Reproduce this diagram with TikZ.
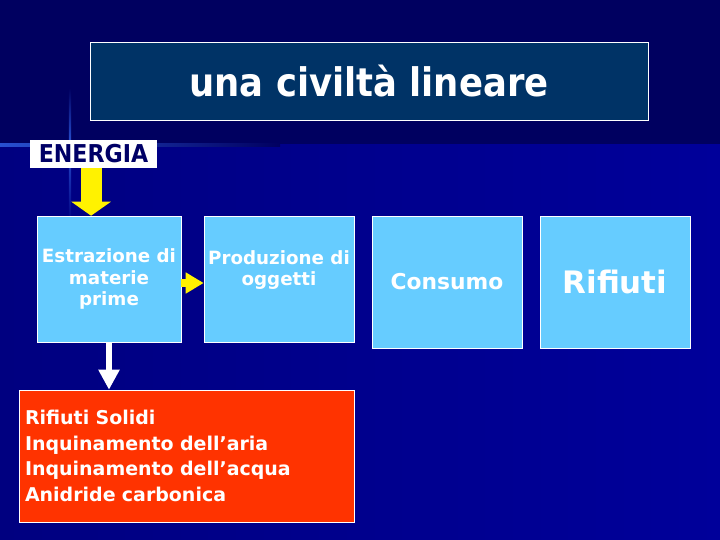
\documentclass[tikz,border=0pt]{standalone}
\usepackage{fontspec}
\setmainfont{DejaVu Sans}
\newfontfamily\condfont{DejaVu Sans Condensed}
\usepackage{tikz}
\usetikzlibrary{shapes,positioning,arrows.meta}
\definecolor{bgtop}{HTML}{000060}
\definecolor{bgleft}{HTML}{000080}
\definecolor{bgright}{HTML}{00009A}
\definecolor{glow}{HTML}{2850D0}
\definecolor{titlefill}{HTML}{003366}
\definecolor{sky}{HTML}{66CCFF}
\definecolor{wastered}{HTML}{FF3300}
\definecolor{navytext}{HTML}{000066}
\tikzstyle{titlebox} = [draw=white, fill=titlefill, text=white, minimum width=13.95cm, minimum height=1.95cm, font=\condfont\bfseries\fontsize{28}{32}\selectfont]
\tikzstyle{energybox} = [fill=white, text=navytext, minimum width=3.175cm, minimum height=0.7cm, inner sep=0pt, font=\condfont\bfseries\fontsize{17.5}{20}\selectfont]
\tikzstyle{stagebox} = [draw=white, fill=sky, text=white, align=center, minimum width=3.75cm, minimum height=3.15cm, inner sep=0pt, font=\bfseries\fontsize{13}{15.6}\selectfont]
\tikzstyle{wastebox} = [draw=white, fill=wastered, text=white, align=left, text width=8.075cm, minimum height=3.3cm, inner xsep=0.15cm, font=\bfseries\fontsize{13.5}{18.3}\selectfont]
\tikzstyle{bigarrow} = [draw, yellow, line width=0.525cm, -{Triangle[width=0.975cm,length=0.35cm]}]
\tikzstyle{smallarrow} = [draw, yellow, line width=0.2cm, -{Triangle[width=0.5cm,length=0.45cm]}]
\tikzstyle{downarrow} = [draw, white, line width=0.15cm, -{Triangle[width=0.5cm,length=0.5cm]}]
\newcommand{\stage}[3]{node (s#1) [stagebox,#2] {#3}}

\begin{document}
\begin{tikzpicture}
\useasboundingbox (0,0) rectangle (18,-13.5);
% background
\fill[bgtop] (0,0) rectangle (18,-13.5);
\shade[left color=bgleft, right color=bgright] (0,-3.6) rectangle (18,-13.5);
\shade[left color=glow, right color=bgtop] (0,-3.58) rectangle (7,-3.65);
\shade[top color=bgtop, bottom color=glow] (1.72,-2.2) rectangle (1.78,-3.6);
\shade[top color=glow, bottom color=bgleft] (1.72,-3.6) rectangle (1.78,-5.6);

\path (9.225,-2.025) node (t1) [titlebox] {una civiltà lineare};
\path (2.3375,-3.85) node (e1) [energybox] {ENERGIA};

\path (2.725,-6.975) \stage{1}{minimum width=3.6cm}{Estrazione di\\materie\\prime};
\path (s1)+(4.25,0) \stage{2}{}{Produzione di\\oggetti\\\mbox{}};
\path (s2)+(4.2,-0.075) \stage{3}{minimum height=3.3cm, font=\bfseries\fontsize{15.5}{18}\selectfont}{Consumo};
\path (s3)+(4.2,0) \stage{4}{minimum height=3.3cm, font=\bfseries\fontsize{22}{26}\selectfont}{Rifiuti};

\path (4.6625,-11.4) node (r1) [wastebox] {Rifiuti Solidi\\Inquinamento dell’aria\\Inquinamento dell’acqua\\Anidride carbonica};

\path [bigarrow] ([xshift=-0.06cm]e1.south) -- ([xshift=-0.06cm]e1.south |- s1.north);
\path [smallarrow] ([yshift=-0.1cm]s1.east) -- ([yshift=-0.1cm]s2.west);
\path [downarrow] (s1.south) -- (s1.south |- r1.north);
\end{tikzpicture}
\end{document}
